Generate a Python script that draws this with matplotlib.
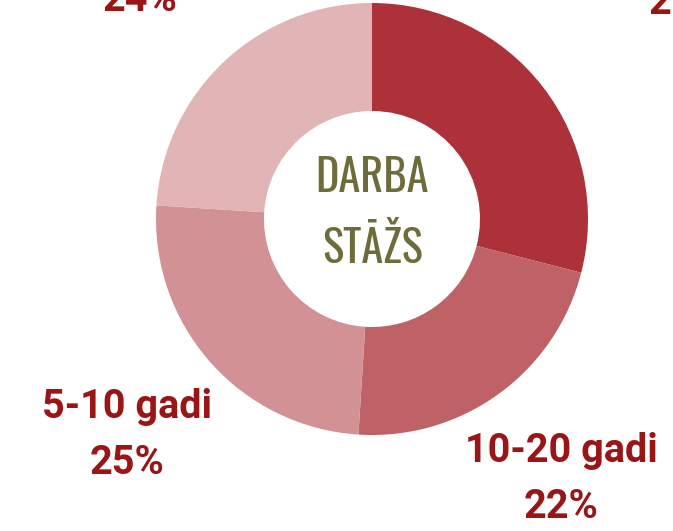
import numpy as np
import matplotlib.pyplot as plt
from matplotlib import font_manager

# dati
categories = ['Virs 20 gadiem', '10-20 gadi', '5-10 gadi', '0-5 gadi']
shares = [29, 22, 25, 24]
colors = ['#AD3138', '#BF6266', '#D19195', '#E1B4B5']
center_lines = ['DARBA', 'STĀŽS']

# etiķešu attālums no centra (rādiusa vienībās)
label_dist = [1.84, 1.49, 1.51, 1.57]

label_color = '#9A1516'
center_color = '#6E6C3A'

# pozīcija pikseļos (673x531)
W, H = 673, 531
cx, cy, R = 372, 219, 216

names = {f.name for f in font_manager.fontManager.ttflist}
narrow = 'Oswald' if 'Oswald' in names else 'DejaVu Sans'

fig = plt.figure(figsize=(W / 100, H / 100), dpi=100)
ax = fig.add_axes([0, 0, 1, 1])

wedges, _ = ax.pie(shares, colors=colors, startangle=90, counterclock=False,
                   radius=1, wedgeprops=dict(width=0.5, linewidth=0))

for w, cat, val, d in zip(wedges, categories, shares, label_dist):
    ang = np.deg2rad((w.theta1 + w.theta2) / 2)
    ax.text(d * np.cos(ang), d * np.sin(ang), f'{cat}\n{val}%',
            ha='center', va='center', fontsize=28.5, fontweight='bold',
            family='Roboto', color=label_color, linespacing=1.6)

# centra uzraksts
ax.text(0, (cy - 178.5) / R, center_lines[0], ha='center', va='center',
        fontsize=32, family=narrow, color=center_color)
ax.text(0, (cy - 248) / R, center_lines[1], ha='center', va='center',
        fontsize=32, family=narrow, color=center_color)

ax.set_xlim(-cx / R, (W - cx) / R)
ax.set_ylim(-(H - cy) / R, cy / R)
ax.axis('off')

fig.savefig('out.png', dpi=100)
